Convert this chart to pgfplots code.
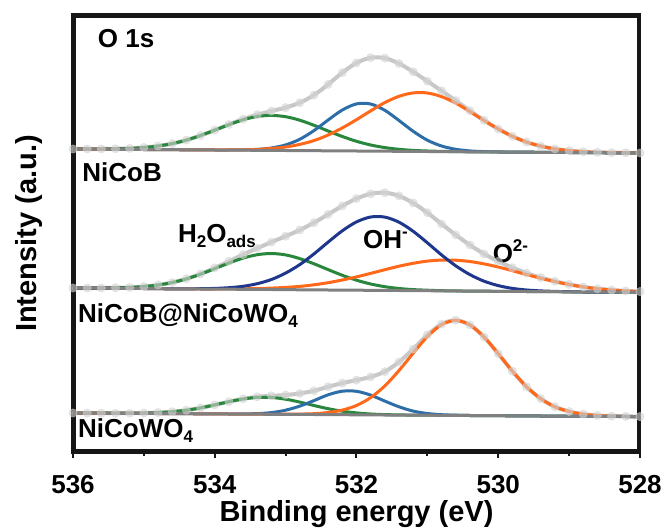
\documentclass[border=0pt]{standalone}
\usepackage{fontspec}
\setmainfont{Liberation Sans}
\usepackage{pgfplots}
\usepackage{pgfplotstable}
\pgfplotsset{compat=1.18}
\definecolor{cgreen}{RGB}{40,135,60}
\definecolor{cblue}{RGB}{46,110,168}
\definecolor{cnavy}{RGB}{30,55,140}
\definecolor{corange}{RGB}{255,105,25}
\definecolor{cenv}{RGB}{200,200,200}
\definecolor{cdot}{RGB}{212,212,212}
\definecolor{cbase}{RGB}{128,128,128}
\definecolor{cframe}{RGB}{22,22,22}
\newcommand{\sub}[1]{\raisebox{-0.2em}{\fontsize{17}{17}\selectfont #1}}
\newcommand{\sups}[1]{\raisebox{0.42em}{\fontsize{17}{17}\selectfont #1}}

\pgfplotstableread{
x base G B O E
536.0 303.0 303.0 303.0 303.0 303.0
535.8 302.9 303.0 302.9 302.9 303.0
535.6 302.8 303.0 302.8 302.8 303.0
535.4 302.7 303.2 302.7 302.7 303.2
535.2 302.6 303.6 302.6 302.6 303.6
535.0 302.5 304.5 302.5 302.5 304.5
534.8 302.4 306.0 302.4 302.4 306.0
534.6 302.3 308.4 302.3 302.3 308.4
534.4 302.2 311.9 302.2 302.2 311.9
534.2 302.1 316.5 302.1 302.1 316.5
534.0 302.0 321.8 302.0 302.1 321.9
533.8 301.9 327.3 302.0 302.1 327.6
533.6 301.8 332.2 302.1 302.2 332.9
533.4 301.7 335.5 302.6 302.6 337.3
533.2 301.6 336.6 304.0 303.5 340.9
533.0 301.5 335.3 307.1 305.0 344.4
532.8 301.4 331.8 312.7 307.6 349.3
532.6 301.3 326.7 321.4 311.4 356.9
532.4 301.2 321.0 332.0 317.0 367.6
532.2 301.1 315.5 342.0 324.1 379.4
532.0 301.0 310.7 348.1 332.3 389.1
531.8 300.9 307.0 348.0 341.1 394.3
531.6 300.8 304.4 341.7 349.4 393.9
531.4 300.7 302.7 331.5 355.7 388.5
531.2 300.6 301.6 320.7 359.1 380.2
531.0 300.5 301.0 311.8 359.0 370.8
530.8 300.4 300.6 306.0 355.4 361.2
530.6 300.3 300.4 302.7 348.9 351.4
530.4 300.2 300.2 301.1 340.4 341.3
530.2 300.1 300.1 300.4 331.4 331.7
530.0 300.0 300.0 300.1 323.0 323.1
529.8 299.9 299.9 299.9 315.7 315.7
529.6 299.8 299.8 299.8 309.9 309.9
529.4 299.7 299.7 299.7 305.9 305.9
529.2 299.6 299.6 299.6 303.1 303.1
529.0 299.5 299.5 299.5 301.4 301.4
528.8 299.4 299.4 299.4 300.3 300.3
528.6 299.3 299.3 299.3 299.7 299.7
528.4 299.2 299.2 299.2 299.4 299.4
528.2 299.1 299.1 299.1 299.2 299.2
528.0 299.0 299.0 299.0 299.0 299.0
}\one

\pgfplotstableread{
x base G B O E
536.0 164.0 164.0 164.0 164.0 164.0
535.8 163.9 164.0 163.9 163.9 164.0
535.6 163.8 164.0 163.8 163.8 164.0
535.4 163.7 164.2 163.7 163.7 164.2
535.2 163.6 164.6 163.6 163.6 164.6
535.0 163.5 165.5 163.5 163.5 165.5
534.8 163.3 167.0 163.3 163.3 167.0
534.6 163.2 169.5 163.2 163.2 169.5
534.4 163.1 173.1 163.2 163.1 173.2
534.2 163.0 177.8 163.3 163.0 178.1
534.0 162.9 183.3 163.6 163.0 184.1
533.8 162.8 188.9 164.3 163.1 190.7
533.6 162.7 193.9 165.7 163.2 197.4
533.4 162.6 197.3 168.3 163.4 203.8
533.2 162.5 198.5 172.5 163.9 209.9
533.0 162.4 197.1 178.9 164.6 215.8
532.8 162.2 193.4 187.4 165.6 222.0
532.6 162.1 188.2 198.1 167.2 229.3
532.4 162.0 182.4 209.9 169.3 237.6
532.2 161.9 176.7 221.2 172.0 246.1
532.0 161.8 171.8 230.1 175.1 253.4
531.8 161.7 168.0 235.0 178.6 258.2
531.6 161.6 165.3 234.9 182.3 259.3
531.4 161.5 163.5 229.8 185.8 256.1
531.2 161.4 162.4 220.7 188.7 249.0
531.0 161.3 161.8 209.2 190.9 239.3
530.8 161.1 161.3 197.1 191.9 228.1
530.6 161.0 161.1 186.2 191.8 217.1
530.4 160.9 160.9 177.4 190.5 207.0
530.2 160.8 160.8 170.8 188.1 198.1
530.0 160.7 160.7 166.4 185.0 190.7
529.8 160.6 160.6 163.6 181.3 184.3
529.6 160.5 160.5 162.0 177.4 178.9
529.4 160.4 160.4 161.1 173.7 174.4
529.2 160.3 160.3 160.6 170.4 170.7
529.0 160.2 160.2 160.3 167.5 167.6
528.8 160.0 160.0 160.0 165.1 165.1
528.6 159.9 159.9 159.9 163.3 163.3
528.4 159.8 159.8 159.8 162.0 162.0
528.2 159.7 159.7 159.7 161.1 161.1
528.0 159.6 159.6 159.6 160.4 160.4
}\two

\pgfplotstableread{
x base G B O E
536.0 39.0 39.0 39.0 39.0 39.0
535.8 38.9 38.9 38.9 38.9 38.9
535.6 38.8 38.8 38.8 38.8 38.8
535.4 38.7 38.8 38.7 38.7 38.8
535.2 38.6 38.8 38.6 38.6 38.8
535.0 38.6 39.0 38.6 38.6 39.0
534.8 38.5 39.4 38.5 38.5 39.4
534.6 38.4 40.3 38.4 38.4 40.3
534.4 38.3 41.8 38.3 38.3 41.8
534.2 38.2 44.1 38.2 38.2 44.1
534.0 38.1 47.1 38.1 38.1 47.1
533.8 38.0 50.3 38.0 38.0 50.3
533.6 37.9 53.0 38.1 37.9 53.2
533.4 37.8 54.6 38.4 37.8 55.2
533.2 37.7 54.5 39.4 37.7 56.2
533.0 37.7 52.8 41.8 37.8 57.0
532.8 37.6 49.9 45.9 37.9 58.5
532.6 37.5 46.5 51.4 38.3 61.2
532.4 37.4 43.3 57.2 39.5 65.2
532.2 37.3 40.8 60.8 41.9 68.9
532.0 37.2 39.1 60.7 46.5 71.9
531.8 37.1 38.0 56.9 54.4 75.1
531.6 37.0 37.4 50.9 66.1 80.4
531.4 36.9 37.1 45.2 81.5 90.0
531.2 36.8 36.9 40.9 98.8 103.0
531.0 36.8 36.8 38.5 115.4 117.1
530.8 36.7 36.7 37.3 127.3 127.9
530.6 36.6 36.6 36.8 131.6 131.8
530.4 36.5 36.5 36.5 127.1 127.1
530.2 36.4 36.4 36.4 115.0 115.0
530.0 36.3 36.3 36.3 98.3 98.3
529.8 36.2 36.2 36.2 80.8 80.8
529.6 36.1 36.1 36.1 65.2 65.2
529.4 36.0 36.0 36.0 53.3 53.3
529.2 35.9 35.9 35.9 45.2 45.2
529.0 35.9 35.9 35.9 40.5 40.5
528.8 35.8 35.8 35.8 37.9 37.9
528.6 35.7 35.7 35.7 36.5 36.5
528.4 35.6 35.6 35.6 35.9 35.9
528.2 35.5 35.5 35.5 35.6 35.6
528.0 35.4 35.4 35.4 35.4 35.4
}\three

\begin{document}
\begin{tikzpicture}
\begin{axis}[
  scale only axis, width=567pt, height=437pt,
  xmin=528, xmax=536, x dir=reverse, ymin=0, ymax=437,
  clip=false,
  axis line style={draw=cframe, line width=3pt},
  ytick=\empty,
  xtick={528,530,532,534,536}, minor xtick={529,531,533,535},
  xtick pos=lower, tick align=outside,
  major tick length=6pt, minor tick length=3.5pt,
  tick style={cframe, line width=2pt},
  /pgf/number format/assume math mode=true,
  /pgf/number format/1000 sep={},
  tick label style={font=\fontsize{26}{26}\selectfont\bfseries},
  xticklabel style={anchor=base, yshift=-35pt},
  xlabel={Binding energy (eV)}, ylabel={Intensity (a.u.)},
  label style={font=\fontsize{29}{29}\selectfont\bfseries},
  xlabel style={at={(axis description cs:0.5,-0.160)}, anchor=base},
  ylabel style={at={(axis description cs:-0.0773,0.5)}, anchor=center},
]
% envelopes
\addplot[cenv, line width=4pt, smooth] table[x=x,y=E]{\one};
\addplot[cenv, line width=4pt, smooth] table[x=x,y=E]{\two};
\addplot[cenv, line width=4pt, smooth] table[x=x,y=E]{\three};
% components
\addplot[cgreen, line width=3pt, smooth] table[x=x,y=G]{\one};
\addplot[cblue, line width=3pt, smooth] table[x=x,y=B]{\one};
\addplot[corange, line width=3pt, smooth] table[x=x,y=O]{\one};
\addplot[cgreen, line width=3pt, smooth] table[x=x,y=G]{\two};
\addplot[corange, line width=3pt, smooth] table[x=x,y=O]{\two};
\addplot[cnavy, line width=3pt, smooth] table[x=x,y=B]{\two};
\addplot[cgreen, line width=3pt, smooth] table[x=x,y=G]{\three};
\addplot[cblue, line width=3pt, smooth] table[x=x,y=B]{\three};
\addplot[corange, line width=3pt, smooth] table[x=x,y=O]{\three};
% baselines
\addplot[cbase, line width=3pt] table[x=x,y=base]{\one};
\addplot[cbase, line width=3pt] table[x=x,y=base]{\two};
\addplot[cbase, line width=3pt] table[x=x,y=base]{\three};
% raw data points
\addplot[only marks, mark=*, mark size=4.2pt, color=cdot, opacity=0.6] table[x=x,y=E]{\one};
\addplot[only marks, mark=*, mark size=4.2pt, color=cdot, opacity=0.6] table[x=x,y=E]{\two};
\addplot[only marks, mark=*, mark size=4.2pt, color=cdot, opacity=0.6] table[x=x,y=E]{\three};
% plot frame, slightly inset
\addplot[cframe, line width=3pt, line join=miter, no marks, forget plot] coordinates {(535.98,1.5) (528.02,1.5) (528.02,435.5) (535.98,435.5) (535.98,1.5) (528.02,1.5)};
% labels
\begin{scope}[every node/.style={font=\fontsize{26}{26}\selectfont\bfseries, anchor=base west, inner sep=0pt}]
\node at (axis cs:535.65,404) {O 1s};
\node at (axis cs:535.87,270) {NiCoB};
\node at (axis cs:535.93,130) {NiCoB@NiCoWO\sub{4}};
\node at (axis cs:535.93,15) {NiCoWO\sub{4}};
\node at (axis cs:534.52,210) {H\sub{2}O\sub{ads}};
\node at (axis cs:531.91,204) {OH\sups{-}};
\node at (axis cs:530.08,190) {O\sups{2-}};
\end{scope}
\end{axis}
\pgfresetboundingbox
\path[use as bounding box] (-73pt,-76pt) rectangle (594pt,452pt);
\end{tikzpicture}
\end{document}
